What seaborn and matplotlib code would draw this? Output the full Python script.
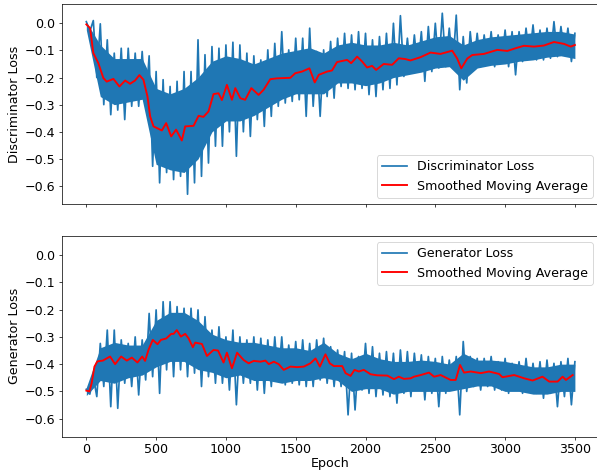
import numpy as np
import pandas as pd
import matplotlib
matplotlib.use("Agg")
import matplotlib.pyplot as plt
import seaborn as sns

# ---------------- Discriminator (top panel) ----------------
peak_epochs = list(range(0, 3501, 50))
trough_epochs = list(range(25, 3500, 50))
core_epochs = list(range(0, 3501, 100))

d_peaks = [0.006, 0.010, -0.002, -0.061, -0.11, -0.092, -0.092, -0.11, -0.104, -0.12,
           -0.178, -0.208, -0.233, -0.214, -0.178, -0.178, -0.061, -0.116, -0.086, -0.092,
           -0.08, -0.07, -0.08, -0.11, -0.12, -0.135, -0.098, -0.074, -0.031, -0.098,
           -0.055, -0.055, -0.018, -0.104, -0.098, -0.067, -0.055, -0.037, -0.043, -0.031,
           -0.037, -0.061, -0.049, -0.037, 0.0, 0.028, -0.055, -0.043, -0.031, -0.012,
           0.0, 0.037, -0.018, 0.03, -0.049, -0.031, -0.037, -0.043, -0.031, -0.043,
           -0.025, -0.031, -0.031, -0.018, -0.006, -0.025, -0.018, 0.006, -0.012, -0.018,
           -0.037]
d_troughs = [-0.03, -0.20, -0.30, -0.337, -0.32, -0.355, -0.306, -0.306, -0.30, -0.527,
             -0.588, -0.55, -0.576, -0.564, -0.63, -0.588, -0.564, -0.515, -0.453, -0.453,
             -0.40, -0.49, -0.40, -0.417, -0.355, -0.38, -0.343, -0.306, -0.294, -0.288,
             -0.282, -0.343, -0.306, -0.343, -0.27, -0.276, -0.233, -0.24, -0.245, -0.24,
             -0.263, -0.27, -0.245, -0.24, -0.227, -0.196, -0.184, -0.178, -0.214, -0.178,
             -0.165, -0.16, -0.16, -0.245, -0.22, -0.16, -0.16, -0.153, -0.16, -0.147,
             -0.16, -0.19, -0.141, -0.129, -0.135, -0.135, -0.129, -0.123, -0.116, -0.141]
d_core_hi = [0.005, -0.08, -0.13, -0.13, -0.13, -0.24, -0.26, -0.24, -0.20, -0.14,
             -0.12, -0.13, -0.15, -0.13, -0.11, -0.10, -0.09, -0.11, -0.08, -0.07,
             -0.08, -0.08, -0.07, -0.08, -0.065, -0.05, -0.045, -0.08, -0.06, -0.05,
             -0.045, -0.04, -0.035, -0.03, -0.03, -0.04]
d_core_lo = [-0.025, -0.27, -0.30, -0.29, -0.28, -0.52, -0.54, -0.55, -0.50, -0.40,
             -0.36, -0.36, -0.34, -0.31, -0.28, -0.26, -0.26, -0.26, -0.22, -0.22,
             -0.23, -0.22, -0.20, -0.19, -0.18, -0.165, -0.16, -0.21, -0.165, -0.155,
             -0.15, -0.14, -0.135, -0.125, -0.12, -0.13]
d_smooth_epochs = [0, 27, 50, 86, 122, 146, 194, 237, 278, 313, 349, 380, 409, 438, 457,
                   481, 541, 572, 608, 643, 684, 708, 768, 804, 839, 875, 911, 947, 971,
                   1007, 1043, 1067, 1103, 1138, 1182, 1234, 1270, 1318, 1366, 1461, 1497,
                   1545, 1598, 1636, 1665, 1725, 1760, 1796, 1868, 1897, 1940, 1976, 2011,
                   2047, 2076, 2130, 2191, 2238, 2286, 2322, 2394, 2466, 2537, 2621, 2657,
                   2686, 2729, 2765, 2848, 2944, 3016, 3075, 3135, 3207, 3278, 3350, 3422,
                   3470, 3500]
d_smooth = [-0.004, -0.018, -0.11, -0.147, -0.202, -0.215, -0.205, -0.233, -0.211, -0.223,
            -0.211, -0.191, -0.208, -0.27, -0.343, -0.38, -0.395, -0.368, -0.417, -0.392,
            -0.432, -0.38, -0.378, -0.341, -0.345, -0.325, -0.261, -0.258, -0.283, -0.227,
            -0.282, -0.239, -0.276, -0.282, -0.239, -0.264, -0.245, -0.206, -0.203, -0.201,
            -0.184, -0.178, -0.166, -0.218, -0.19, -0.178, -0.174, -0.143, -0.135, -0.147,
            -0.123, -0.141, -0.163, -0.157, -0.172, -0.15, -0.153, -0.129, -0.132, -0.137,
            -0.125, -0.108, -0.113, -0.101, -0.13, -0.166, -0.13, -0.117, -0.113, -0.098,
            -0.102, -0.092, -0.083, -0.086, -0.082, -0.069, -0.076, -0.086, -0.08]

# ---------------- Generator (bottom panel) ----------------
g_peaks = [-0.492, -0.446, -0.324, -0.275, -0.275, -0.311, -0.324, -0.30, -0.311, -0.214,
           -0.201, -0.171, -0.171, -0.189, -0.195, -0.195, -0.201, -0.226, -0.275, -0.263,
           -0.30, -0.275, -0.30, -0.311, -0.30, -0.305, -0.311, -0.30, -0.30, -0.33,
           -0.317, -0.311, -0.324, -0.311, -0.305, -0.336, -0.348, -0.354, -0.36, -0.372,
           -0.324, -0.336, -0.36, -0.354, -0.36, -0.348, -0.354, -0.36, -0.366, -0.372,
           -0.379, -0.372, -0.385, -0.372, -0.317, -0.372, -0.379, -0.379, -0.372, -0.391,
           -0.379, -0.397, -0.391, -0.379, -0.397, -0.391, -0.385, -0.397, -0.391, -0.379,
           -0.391]
g_troughs = [-0.51, -0.519, -0.482, -0.556, -0.562, -0.47, -0.482, -0.513, -0.458, -0.446,
             -0.507, -0.421, -0.446, -0.421, -0.446, -0.433, -0.482, -0.446, -0.47, -0.47,
             -0.495, -0.549, -0.47, -0.47, -0.495, -0.507, -0.482, -0.458, -0.476, -0.47,
             -0.476, -0.482, -0.482, -0.458, -0.47, -0.482, -0.482, -0.586, -0.568, -0.495,
             -0.507, -0.519, -0.513, -0.519, -0.543, -0.507, -0.519, -0.495, -0.531, -0.507,
             -0.556, -0.507, -0.495, -0.586, -0.50, -0.482, -0.495, -0.482, -0.495, -0.495,
             -0.507, -0.482, -0.507, -0.50, -0.507, -0.525, -0.507, -0.556, -0.519, -0.549]
g_core_hi = [-0.485, -0.34, -0.32, -0.33, -0.33, -0.24, -0.21, -0.21, -0.24, -0.29,
             -0.31, -0.32, -0.32, -0.33, -0.34, -0.34, -0.35, -0.32, -0.36, -0.38,
             -0.36, -0.38, -0.39, -0.39, -0.385, -0.39, -0.40, -0.36, -0.385, -0.385,
             -0.39, -0.40, -0.41, -0.41, -0.40, -0.40]
g_core_lo = [-0.515, -0.46, -0.47, -0.45, -0.44, -0.41, -0.39, -0.39, -0.42, -0.43,
             -0.45, -0.44, -0.46, -0.46, -0.47, -0.46, -0.46, -0.45, -0.46, -0.50,
             -0.49, -0.49, -0.51, -0.50, -0.50, -0.50, -0.50, -0.49, -0.48, -0.48,
             -0.50, -0.50, -0.51, -0.51, -0.50, -0.50]
g_smooth_epochs = [0, 22, 38, 58, 79, 118, 170, 206, 249, 290, 326, 366, 400, 421, 445,
                   476, 510, 534, 572, 608, 625, 648, 677, 708, 732, 763, 780, 828, 864,
                   911, 943, 983, 1007, 1043, 1080, 1127, 1163, 1199, 1247, 1283, 1307,
                   1343, 1378, 1414, 1462, 1510, 1558, 1605, 1642, 1673, 1713, 1744, 1773,
                   1833, 1857, 1893, 1921, 1952, 1988, 2036, 2084, 2156, 2204, 2239, 2275,
                   2323, 2347, 2395, 2455, 2491, 2538, 2610, 2646, 2677, 2706, 2754, 2826,
                   2885, 2957, 2981, 3065, 3137, 3197, 3268, 3316, 3376, 3412, 3436, 3484]
g_smooth = [-0.497, -0.50, -0.47, -0.409, -0.39, -0.387, -0.372, -0.40, -0.372, -0.387,
            -0.376, -0.394, -0.372, -0.388, -0.348, -0.311, -0.327, -0.311, -0.306, -0.289,
            -0.289, -0.275, -0.299, -0.289, -0.305, -0.338, -0.321, -0.326, -0.37, -0.348,
            -0.35, -0.394, -0.358, -0.415, -0.358, -0.385, -0.397, -0.388, -0.391, -0.387,
            -0.40, -0.391, -0.40, -0.421, -0.409, -0.411, -0.409, -0.397, -0.379, -0.409,
            -0.364, -0.397, -0.407, -0.407, -0.433, -0.443, -0.421, -0.427, -0.421, -0.437,
            -0.441, -0.442, -0.455, -0.446, -0.454, -0.452, -0.446, -0.44, -0.431, -0.446,
            -0.44, -0.458, -0.458, -0.403, -0.431, -0.427, -0.433, -0.427, -0.436, -0.448,
            -0.44, -0.452, -0.46, -0.446, -0.464, -0.464, -0.446, -0.458, -0.44]

BLUE = "#1f77b4"
DPI = 65

plt.rcParams['font.family'] = ['DejaVu Sans']
plt.rcParams['font.size'] = 14

fig = plt.figure(figsize=(597 / DPI, 470 / DPI), dpi=DPI)
ax1 = fig.add_axes([0.1037, 0.5660, 0.9002, 0.4249])
ax2 = fig.add_axes([0.1037, 0.0709, 0.9002, 0.4270], sharex=ax1, sharey=ax1)


def draw(ax, peaks, troughs, core_hi, core_lo, s_ep, s_val, label):
    raw = pd.DataFrame({
        "epoch": peak_epochs + trough_epochs,
        "loss": peaks + troughs,
    }).sort_values("epoch")
    ax.fill_between(core_epochs, core_hi, core_lo, color=BLUE, lw=0, zorder=1)
    sns.lineplot(data=raw, x="epoch", y="loss", ax=ax, color=BLUE, lw=1.9,
                 estimator=None, sort=True, label=label, zorder=2)
    sm = pd.DataFrame({"epoch": s_ep, "loss": s_val})
    sns.lineplot(data=sm, x="epoch", y="loss", ax=ax, color="red", lw=2.1,
                 estimator=None, sort=True, label="Smoothed Moving Average", zorder=3)


draw(ax1, d_peaks, d_troughs, d_core_hi, d_core_lo, d_smooth_epochs, d_smooth,
     "Discriminator Loss")
draw(ax2, g_peaks, g_troughs, g_core_hi, g_core_lo, g_smooth_epochs, g_smooth,
     "Generator Loss")

ax1.set_ylim(-0.666, 0.07)
ax1.set_xlim(-175, 3675)
ax1.set_yticks([0.0, -0.1, -0.2, -0.3, -0.4, -0.5, -0.6])
ax1.set_xticks([0, 500, 1000, 1500, 2000, 2500, 3000, 3500])
plt.setp(ax1.get_xticklabels(), visible=False)
ax1.set_xlabel("")
ax1.set_ylabel("Discriminator Loss")
ax2.set_xlabel("Epoch", labelpad=1)
ax2.set_ylabel("Generator Loss")

ax1.legend(loc="lower right")
ax2.legend(loc="upper right")

fig.savefig("out.png", dpi=DPI)
